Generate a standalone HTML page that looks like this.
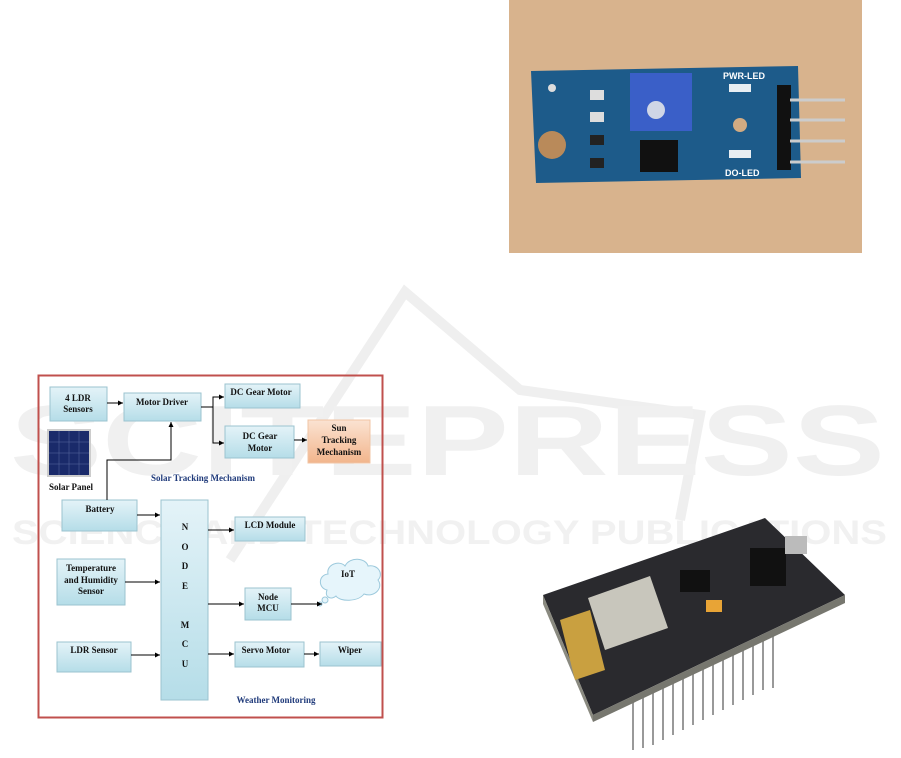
<!DOCTYPE html>
<html><head><meta charset="utf-8"><style>
html,body{margin:0;padding:0;background:#fff;}
svg{display:block}
text{font-family:"Liberation Serif",serif;font-weight:bold;}
</style></head><body>
<svg width="901" height="758" viewBox="0 0 901 758" xmlns="http://www.w3.org/2000/svg">
<defs>
<linearGradient id="bx" x1="0" y1="0" x2="0" y2="1"><stop offset="0" stop-color="#e4f3f8"/><stop offset="1" stop-color="#b5dde8"/></linearGradient>
<linearGradient id="or" x1="0" y1="0" x2="0" y2="1"><stop offset="0" stop-color="#fbe3d2"/><stop offset="1" stop-color="#f2b58c"/></linearGradient>
<marker id="a" markerWidth="6" markerHeight="6" refX="5" refY="3" orient="auto"><path d="M0,0.5 L5,3 L0,5.5z" fill="#000"/></marker>
</defs>

<!-- watermark -->
<g fill="none" stroke="#efefef" stroke-width="10">
<path d="M230,560 L405,292 L520,390 L700,415 L680,520"/>
</g>
<text x="10" y="475" font-size="100" fill="#f0f0f0" style="font-family:'Liberation Sans',sans-serif;font-weight:bold" textLength="875" lengthAdjust="spacingAndGlyphs">SCITEPRESS</text>
<text x="12" y="544" font-size="34" fill="#f1f1f1" style="font-family:'Liberation Sans',sans-serif;font-weight:bold" textLength="875" lengthAdjust="spacingAndGlyphs">SCIENCE AND TECHNOLOGY PUBLICATIONS</text>

<!-- top right photo -->
<rect x="509" y="0" width="353" height="253" fill="#d8b38d"/>
<polygon points="531,71 798,66 801,178 536,183" fill="#1d5b8a"/>
<rect x="630" y="73" width="62" height="58" fill="#3a5fc8"/>
<circle cx="656" cy="110" r="9" fill="#cfd6e6"/>
<rect x="640" y="140" width="38" height="32" fill="#111"/>
<circle cx="740" cy="125" r="7" fill="#d2ab82"/>
<circle cx="552" cy="145" r="14" fill="#b98a5a"/>
<circle cx="552" cy="88" r="4" fill="#ddd"/>
<rect x="590" y="90" width="14" height="10" fill="#ddd"/><rect x="590" y="112" width="14" height="10" fill="#ddd"/>
<rect x="590" y="135" width="14" height="10" fill="#222"/><rect x="590" y="158" width="14" height="10" fill="#222"/>
<rect x="729" y="84" width="22" height="8" fill="#e8eef2"/><rect x="729" y="150" width="22" height="8" fill="#e8eef2"/>
<rect x="777" y="85" width="14" height="85" fill="#111"/>
<g stroke="#ccc" stroke-width="3"><line x1="790" y1="100" x2="845" y2="100"/><line x1="790" y1="120" x2="845" y2="120"/><line x1="790" y1="141" x2="845" y2="141"/><line x1="790" y1="162" x2="845" y2="162"/></g>
<text x="723" y="79" font-size="9" fill="#fff" style="font-family:'Liberation Sans',sans-serif">PWR-LED</text>
<text x="725" y="176" font-size="9" fill="#fff" style="font-family:'Liberation Sans',sans-serif">DO-LED</text>

<!-- NodeMCU photo -->
<g stroke="#999" stroke-width="2">
<line x1="633" y1="700" x2="633" y2="750"/><line x1="643" y1="698" x2="643" y2="748"/><line x1="653" y1="693" x2="653" y2="745"/><line x1="663" y1="688" x2="663" y2="740"/><line x1="673" y1="683" x2="673" y2="735"/><line x1="683" y1="678" x2="683" y2="730"/><line x1="693" y1="673" x2="693" y2="725"/><line x1="703" y1="668" x2="703" y2="720"/><line x1="713" y1="663" x2="713" y2="715"/><line x1="723" y1="658" x2="723" y2="710"/><line x1="733" y1="653" x2="733" y2="705"/><line x1="743" y1="648" x2="743" y2="700"/><line x1="753" y1="643" x2="753" y2="695"/><line x1="763" y1="638" x2="763" y2="690"/><line x1="773" y1="633" x2="773" y2="688"/>
</g>
<polygon points="543,595 765,518 845,595 593,715" fill="#2a2a2e"/>
<polygon points="543,595 593,715 593,722 543,604" fill="#8a8a80"/>
<polygon points="593,715 845,595 845,603 593,722" fill="#77776f"/>
<polygon points="588,598 650,576 668,628 605,650" fill="#c8c6bc"/>
<rect x="706" y="600" width="16" height="12" fill="#e8a436"/>
<polygon points="560,620 590,610 605,670 575,680" fill="#c9a040"/>
<rect x="680" y="570" width="30" height="22" fill="#111"/>
<rect x="750" y="548" width="36" height="38" fill="#111"/>
<rect x="785" y="536" width="22" height="18" fill="#bbb"/>

<!-- diagram border -->
<rect x="38.5" y="375.5" width="344" height="342" fill="none" stroke="#c0504d" stroke-width="2"/>

<g stroke="#9bc3cf" stroke-width="1" fill="url(#bx)">
<rect x="50" y="387" width="57" height="34"/>
<rect x="124" y="393" width="77" height="28"/>
<rect x="225" y="384" width="75" height="24"/>
<rect x="225" y="426" width="69" height="32"/>
<rect x="62" y="500" width="75" height="31"/>
<rect x="161" y="500" width="47" height="200"/>
<rect x="235" y="517" width="70" height="24"/>
<rect x="57" y="559" width="68" height="46"/>
<rect x="245" y="588" width="46" height="32"/>
<rect x="57" y="642" width="74" height="30"/>
<rect x="235" y="642" width="69" height="25"/>
<rect x="320" y="642" width="61" height="24"/>
</g>
<rect x="308" y="420" width="62" height="43" fill="url(#or)" stroke="#f0c4a4"/>
<!-- solar panel -->
<rect x="47" y="429" width="44" height="48" fill="#ccc"/>
<rect x="49" y="431" width="40" height="44" fill="#1a2a6a"/>
<g stroke="#5a6aa0" stroke-width="0.5"><line x1="59" y1="431" x2="59" y2="475"/><line x1="69" y1="431" x2="69" y2="475"/><line x1="79" y1="431" x2="79" y2="475"/><line x1="49" y1="442" x2="89" y2="442"/><line x1="49" y1="453" x2="89" y2="453"/><line x1="49" y1="464" x2="89" y2="464"/></g>
<!-- cloud -->
<path d="M327,590 C318,588 318,575 328,574 C326,564 340,560 345,566 C350,556 366,558 368,566 C378,564 384,574 378,580 C384,588 374,598 364,594 C358,602 340,602 336,596 C332,600 324,598 327,590z" fill="#e6f5fb" stroke="#9cc9dc"/>
<circle cx="325" cy="600" r="3" fill="#e6f5fb" stroke="#9cc9dc"/>
<circle cx="320" cy="604" r="2" fill="#e6f5fb" stroke="#9cc9dc"/>

<!-- connectors -->
<g stroke="#000" stroke-width="1" fill="none" marker-end="url(#a)">
<line x1="107" y1="403" x2="123" y2="403"/>
<polyline points="201,407 213,407 213,397 224,397"/>
<polyline points="213,407 213,443 224,443"/>
<line x1="294" y1="440" x2="307" y2="440"/>
<polyline points="107,500 107,460 171,460 171,422"/>
<line x1="137" y1="515" x2="160" y2="515"/>
<line x1="208" y1="530" x2="234" y2="530"/>
<line x1="125" y1="582" x2="160" y2="582"/>
<line x1="208" y1="604" x2="244" y2="604"/>
<line x1="291" y1="604" x2="322" y2="604"/>
<line x1="131" y1="655" x2="160" y2="655"/>
<line x1="208" y1="654" x2="234" y2="654"/>
<line x1="304" y1="654" x2="319" y2="654"/>
</g>

<g font-size="9" fill="#111" text-anchor="middle">
<text x="78" y="401">4 LDR</text><text x="78" y="412">Sensors</text>
<text x="162" y="405">Motor Driver</text>
<text x="261" y="395">DC Gear Motor</text>
<text x="260" y="439">DC Gear</text><text x="260" y="451">Motor</text>
<text x="339" y="431">Sun</text><text x="339" y="443">Tracking</text><text x="339" y="455">Mechanism</text>
<text x="71" y="490">Solar Panel</text>
<text x="100" y="512">Battery</text>
<text x="185" y="530">N</text><text x="185" y="550">O</text><text x="185" y="569">D</text><text x="185" y="589">E</text>
<text x="185" y="628">M</text><text x="185" y="647">C</text><text x="185" y="667">U</text>
<text x="270" y="528">LCD Module</text>
<text x="91" y="571">Temperature</text><text x="91" y="583">and Humidity</text><text x="91" y="594">Sensor</text>
<text x="268" y="600">Node</text><text x="268" y="611">MCU</text>
<text x="348" y="577">IoT</text>
<text x="94" y="653">LDR Sensor</text>
<text x="266" y="653">Servo Motor</text>
<text x="350" y="653">Wiper</text>
</g>
<g font-size="9" fill="#1f3a7a" text-anchor="middle">
<text x="203" y="481">Solar Tracking Mechanism</text>
<text x="276" y="703">Weather Monitoring</text>
</g>
</svg>
</body></html>
